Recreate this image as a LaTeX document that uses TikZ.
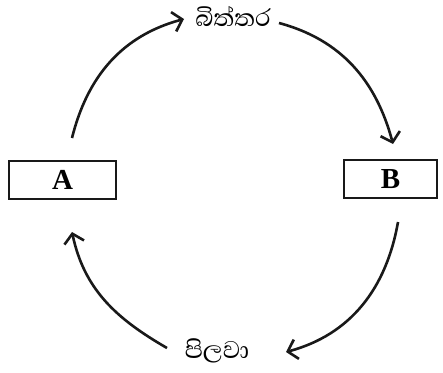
\documentclass[tikz,border=0pt]{standalone}
\usepackage{fontspec}
\setmainfont{Liberation Serif}
\newfontfamily\sinhalafont[Script=Sinhala]{Abhaya Libre}
\usetikzlibrary{arrows.meta}
\begin{document}
\begin{tikzpicture}[x=1pt,y=-1pt,
  boxst/.style={draw=black!90,line width=2.8pt,rectangle,inner sep=0pt,minimum height=38pt,font=\fontsize{29}{31}\selectfont\bfseries},
  lbl/.style={font=\sinhalafont\fontsize{31}{33}\selectfont,inner sep=0pt},
  arc/.style={draw=black!90,line width=2.6pt,-{Straight Barb[length=9pt,width=20pt,line width=2.6pt]}}]
\useasboundingbox (0,0) rectangle (443,372);
\node[boxst,minimum width=107pt] (A) at (62.5,180) {A};
\node[boxst,minimum width=93pt] (B) at (390.5,179) {B};
\node[lbl] (top) at (233,16) {බිත්තර};
\node[lbl] (bot) at (217,351) {පිලවා};
\coordinate (a1) at (72,138);
\coordinate (a2) at (184,19);
\coordinate (b1) at (279,23);
\coordinate (b2) at (393,144);
\coordinate (c1) at (398,222);
\coordinate (c2) at (286,352);
\coordinate (d1) at (167,348);
\coordinate (d2) at (72,232);
\draw[arc] (a1) to[out=76,in=195] (a2);
\draw[arc] (b1) to[out=-15,in=105] (b2);
\draw[arc] (c1) to[out=-100,in=15] (c2);
\draw[arc] (d1) to[out=150,in=-78] (d2);
\end{tikzpicture}
\end{document}
